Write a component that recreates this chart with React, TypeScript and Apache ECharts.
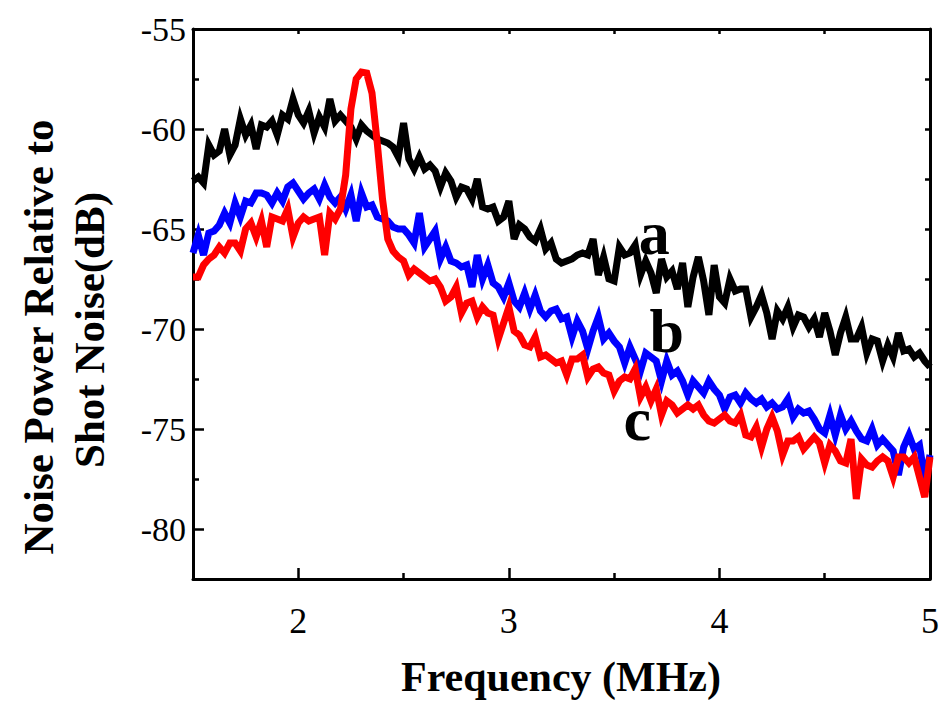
import React, { useEffect, useRef } from "react";
import * as echarts from "echarts";

// Sampling grid of the spectra (MHz)
const FREQ_START = 1.5;
const FREQ_STEP = 0.025;

// Curve a (black), dB
const CURVE_A = [
  -62.6, -62.4, -62.7, -60.8, -61.3, -61.1, -60.0, -61.3, -60.8, -59.5,
  -60.3, -59.8, -61.0, -59.8, -59.9, -59.6, -60.3, -59.3, -59.5, -58.5,
  -59.3, -59.7, -59.1, -60.2, -59.4, -59.9, -58.5, -59.6, -59.3, -59.6,
  -59.9, -60.5, -59.8, -60.1, -60.3, -60.5, -60.6, -60.7, -60.9, -61.4,
  -59.7, -61.5, -62.0, -61.4, -62.0, -61.8, -62.1, -62.9, -62.2, -62.6,
  -63.4, -62.9, -63.0, -63.5, -62.5, -63.9, -64.0, -63.9, -64.6, -64.4,
  -63.6, -65.5, -64.8, -65.0, -65.4, -65.6, -65.0, -66.0, -65.7, -66.5,
  -66.7, -66.6, -66.5, -66.3, -66.2, -66.3, -65.5, -67.3, -66.4, -67.5,
  -67.6, -65.9, -66.3, -66.2, -65.8, -67.3, -66.6, -67.2, -68.2, -66.5,
  -67.4, -67.1, -68.0, -66.7, -68.9, -67.4, -66.4, -67.6, -69.3, -66.8,
  -68.4, -68.7, -67.5, -68.1, -68.0, -68.0, -69.4, -68.9, -68.3, -69.2,
  -70.5, -69.1, -69.5, -68.9, -69.9, -69.3, -69.4, -69.9, -69.5, -70.4,
  -69.2, -70.1, -71.3, -70.2, -69.4, -70.5, -70.5, -69.9, -71.2, -70.5,
  -70.6, -71.6, -70.8, -71.4, -70.2, -71.1, -71.0, -71.4, -71.2, -71.6,
  -71.9,
];

// Curve b (blue), dB
const CURVE_B = [
  -66.2, -65.3, -66.3, -65.2, -65.1, -64.8, -64.2, -64.7, -63.7, -64.4,
  -63.6, -63.7, -63.2, -63.2, -63.3, -63.7, -63.2, -63.6, -62.9, -62.7,
  -63.1, -63.5, -63.2, -63.0, -63.5, -62.8, -63.4, -63.7, -63.4, -64.0,
  -63.3, -64.6, -63.2, -63.9, -63.8, -64.4, -64.5, -64.6, -64.9, -65.0,
  -65.0, -65.3, -65.7, -64.2, -65.9, -65.5, -65.1, -66.5, -65.9, -66.6,
  -66.7, -66.9, -66.8, -67.9, -66.3, -67.5, -66.8, -67.7, -67.9, -68.4,
  -67.7, -68.6, -68.9, -68.2, -69.0, -68.3, -69.1, -69.4, -69.1, -69.0,
  -69.5, -69.4, -70.4, -69.6, -70.1, -71.0, -70.1, -69.4, -70.5, -70.2,
  -70.6, -70.9, -71.7, -70.9, -71.5, -72.1, -71.2, -71.4, -71.6, -72.6,
  -71.6, -72.3, -72.1, -72.6, -73.3, -72.6, -72.9, -73.2, -72.6, -73.0,
  -73.3, -74.0, -73.4, -73.3, -73.7, -73.2, -73.5, -73.7, -73.5, -73.9,
  -73.7, -74.0, -73.9, -73.5, -74.4, -74.0, -74.2, -74.1, -74.5, -75.0,
  -75.2, -74.3, -75.3, -74.3, -75.0, -74.6, -75.1, -75.5, -75.6, -75.0,
  -75.8, -75.5, -75.8, -76.1, -77.3, -75.9, -75.3, -76.0, -75.8, -77.5,
  -76.3,
];

// Curve c (red), dB
const CURVE_C = [
  -67.4, -67.4, -66.8, -66.5, -66.3, -65.9, -66.2, -65.7, -65.7, -66.1,
  -65.0, -64.7, -65.4, -64.6, -65.9, -64.4, -64.5, -64.6, -64.0, -65.4,
  -64.7, -64.4, -64.6, -64.5, -64.4, -66.3, -64.2, -64.5, -64.0, -62.3,
  -59.0, -57.5, -57.15, -57.2, -58.2, -60.7, -63.5, -65.5, -66.1, -66.4,
  -66.6, -67.3, -67.0, -67.2, -67.4, -67.6, -67.5, -67.9, -68.6, -68.4,
  -67.9, -69.2, -68.7, -68.6, -69.4, -68.9, -69.2, -69.3, -70.5, -69.7,
  -68.9, -70.1, -70.3, -70.8, -70.9, -70.4, -71.4, -71.3, -71.5, -71.7,
  -71.6, -72.3, -71.5, -71.5, -71.3, -72.4, -72.0, -71.9, -72.2, -72.3,
  -73.1, -72.6, -72.4, -72.5, -72.0, -73.4, -72.9, -73.6, -73.0, -74.3,
  -73.6, -73.8, -74.2, -74.0, -73.8, -74.0, -73.8, -74.3, -74.6, -74.7,
  -74.5, -74.3, -74.6, -74.7, -74.3, -75.3, -75.4, -74.9, -75.9, -75.0,
  -74.4, -75.1, -76.3, -75.6, -75.6, -75.4, -76.0, -75.7, -75.4, -75.7,
  -76.7, -75.8, -76.1, -76.6, -76.7, -75.5, -78.5, -76.5, -76.8, -76.9,
  -76.6, -76.4, -76.6, -77.4, -76.4, -76.4, -76.7, -76.4, -77.4, -78.4,
  -76.4,
];

// Axis ticks
const X_MAJOR = [2, 3, 4, 5];
const X_MINOR = [2.5, 3.5, 4.5];
const X_TOP = [2, 2.5, 3, 3.5, 4, 4.5];
const Y_MAJOR = [-55, -60, -65, -70, -75, -80];
const Y_MINOR = [-57.5, -62.5, -67.5, -72.5, -77.5];
const Y_RIGHT = [-57.5, -60, -62.5, -65, -67.5, -70, -72.5, -75, -77.5, -80];

// Curve labels: [name, freq, dB]
const LABEL_A: [string, number, number] = ["a", 3.69, -65.2];
const LABEL_B: [string, number, number] = ["b", 3.75, -70.1];
const LABEL_C: [string, number, number] = ["c", 3.61, -74.5];

const FREQ = CURVE_A.map((_, i) => +(FREQ_START + i * FREQ_STEP).toFixed(3));

const SERIF = "'Liberation Serif', 'Times New Roman', serif";

export default function App() {
  const ref = useRef<HTMLDivElement>(null);

  useEffect(() => {
    if (!ref.current) return;
    const chart = echarts.init(ref.current, undefined, { renderer: "svg" });

    const pair = (arr: number[]) => arr.map((v, i) => [FREQ[i], v]);
    const gridRect = { left: 193, right: 13, top: 29, bottom: 122 };
    const axisLine = { show: true, lineStyle: { color: "#000", width: 3 } };
    const tickStyle = { color: "#000", width: 2.5 };

    const labelPoint = (l: [string, number, number]) => ({
      coord: [l[1], l[2]],
      symbol: "circle",
      symbolSize: 1,
      itemStyle: { color: "rgba(0,0,0,0)" },
      label: {
        show: true,
        position: "inside",
        formatter: l[0],
        fontFamily: SERIF,
        fontWeight: "bold",
        fontSize: 62,
        color: "#000",
      },
    });

    const lineSeries = (data: number[], color: string, label: [string, number, number]) => ({
      type: "line",
      xAxisIndex: 0,
      yAxisIndex: 0,
      data: pair(data),
      showSymbol: false,
      symbol: "none",
      lineStyle: { color, width: 7, join: "miter" },
      itemStyle: { color },
      markPoint: { silent: true, data: [labelPoint(label)] },
      z: 3,
    });

    chart.setOption({
      animation: false,
      backgroundColor: "#fff",
      grid: [
        { ...gridRect },
        { ...gridRect },
      ],
      xAxis: [
        {
          type: "value",
          gridIndex: 0,
          position: "bottom",
          min: 1.5,
          max: 5,
          axisLine,
          axisTick: { show: true, inside: true, length: 11, lineStyle: tickStyle, customValues: X_MAJOR },
          axisLabel: {
            customValues: X_MAJOR,
            fontFamily: SERIF,
            fontSize: 36,
            color: "#000",
            margin: 24,
          },
          splitLine: { show: false },
        },
        {
          type: "value",
          gridIndex: 0,
          position: "top",
          min: 1.5,
          max: 5,
          axisLine,
          axisTick: { show: true, inside: true, length: 5, lineStyle: tickStyle, customValues: X_TOP },
          axisLabel: { show: false },
          splitLine: { show: false },
        },
        {
          type: "value",
          gridIndex: 1,
          position: "bottom",
          min: 1.5,
          max: 5,
          axisLine: { show: false },
          axisTick: { show: true, inside: true, length: 6, lineStyle: tickStyle, customValues: X_MINOR },
          axisLabel: { show: false },
          splitLine: { show: false },
        },
      ],
      yAxis: [
        {
          type: "value",
          gridIndex: 0,
          position: "left",
          min: -82.5,
          max: -55,
          axisLine,
          axisTick: { show: true, inside: true, length: 11, lineStyle: tickStyle, customValues: Y_MAJOR },
          axisLabel: {
            customValues: Y_MAJOR,
            fontFamily: SERIF,
            fontSize: 34,
            color: "#000",
            margin: 7,
          },
          splitLine: { show: false },
        },
        {
          type: "value",
          gridIndex: 0,
          position: "right",
          min: -82.5,
          max: -55,
          axisLine,
          axisTick: { show: true, inside: true, length: 5, lineStyle: tickStyle, customValues: Y_RIGHT },
          axisLabel: { show: false },
          splitLine: { show: false },
        },
        {
          type: "value",
          gridIndex: 1,
          position: "left",
          min: -82.5,
          max: -55,
          axisLine: { show: false },
          axisTick: { show: true, inside: true, length: 6, lineStyle: tickStyle, customValues: Y_MINOR },
          axisLabel: { show: false },
          splitLine: { show: false },
        },
      ],
      series: [
        lineSeries(CURVE_A, "#000000", LABEL_A),
        lineSeries(CURVE_B, "#0000ff", LABEL_B),
        lineSeries(CURVE_C, "#ff0000", LABEL_C),
      ],
      graphic: [
        {
          type: "text",
          x: 561,
          y: 677,
          style: {
            text: "Frequency (MHz)",
            fontFamily: SERIF,
            fontWeight: "bold",
            fontSize: 42,
            fill: "#000",
            align: "center",
            verticalAlign: "middle",
          },
        },
        {
          type: "text",
          x: 38,
          y: 337,
          rotation: Math.PI / 2,
          style: {
            text: "Noise Power Relative to",
            fontFamily: SERIF,
            fontWeight: "bold",
            fontSize: 43,
            fill: "#000",
            align: "center",
            verticalAlign: "middle",
          },
        },
        {
          type: "text",
          x: 89,
          y: 330,
          rotation: Math.PI / 2,
          style: {
            text: "Shot Noise(dB)",
            fontFamily: SERIF,
            fontWeight: "bold",
            fontSize: 43,
            fill: "#000",
            align: "center",
            verticalAlign: "middle",
          },
        },
      ],
    });

    return () => chart.dispose();
  }, []);

  return (
    <div
      ref={ref}
      style={{ position: "fixed", left: 0, top: 0, width: 943, height: 701, background: "#fff" }}
    />
  );
}
